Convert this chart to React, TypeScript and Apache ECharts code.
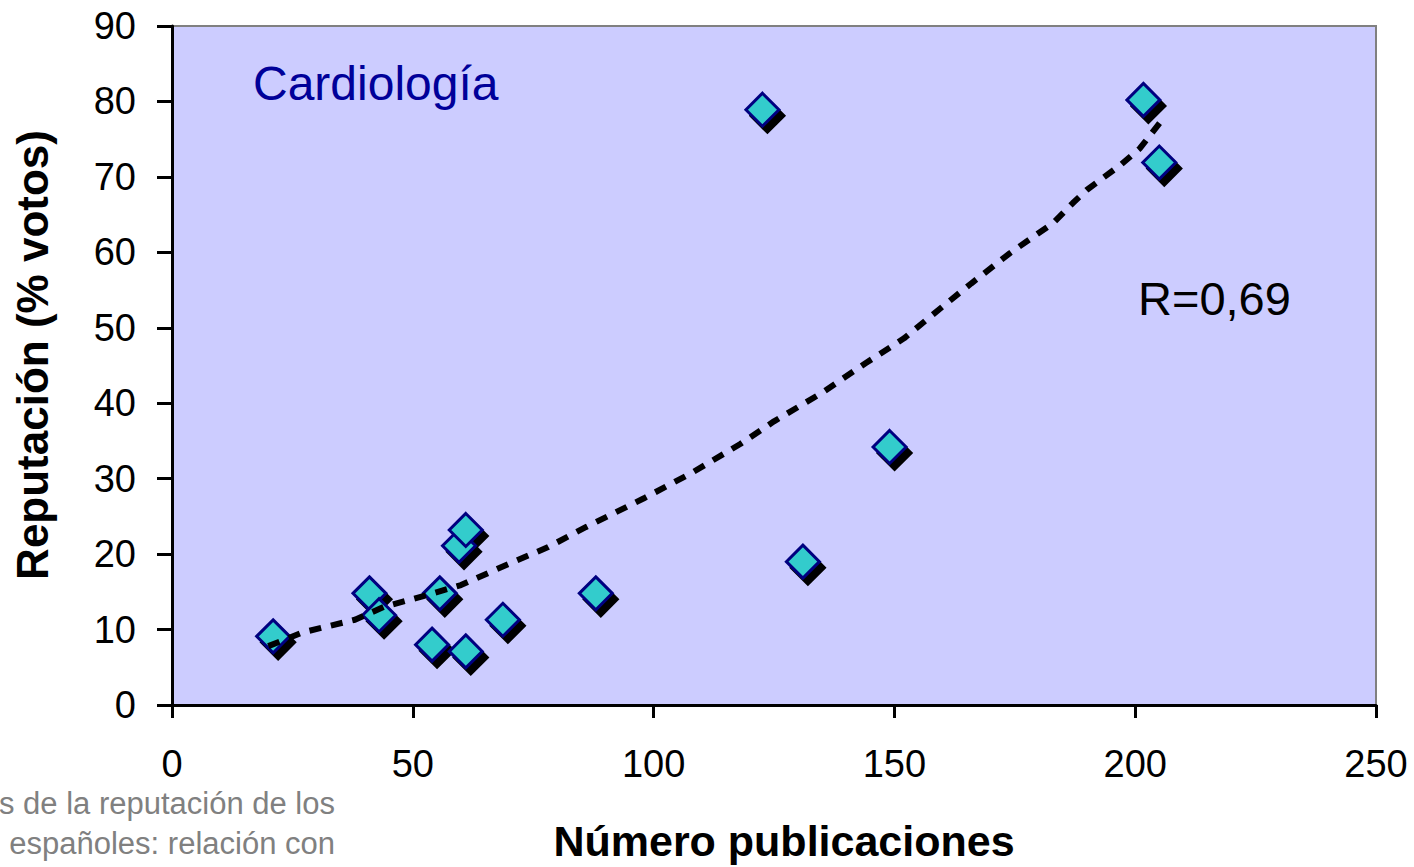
import React, { useEffect, useRef } from "react";
import * as echarts from "echarts";

// Scatter data: Número publicaciones (x) vs Reputación % votos (y)
const pubX = [21, 41, 43, 55.6, 54, 61, 59.6, 61, 68.7, 88, 122.6, 131, 149, 201.7, 205];
const repY = [9.1, 14.8, 11.9, 14.8, 8, 7.1, 21.1, 23.2, 11.3, 14.8, 78.9, 19, 34.2, 80.2, 71.9];

// Trend line
const trendX = [20, 27, 38, 44, 52, 60, 71, 78, 86, 98, 108, 118, 125, 135, 144, 152, 160, 166, 174, 183, 187, 190, 197, 201, 205.4];
const trendY = [7.8, 9.6, 11.3, 13.0, 14.4, 15.9, 19.0, 20.9, 23.6, 27.4, 30.8, 34.6, 37.6, 41.4, 45.3, 48.6, 52.8, 55.9, 59.9, 63.9, 66.5, 68.3, 71.6, 73.8, 77.4];

const xTicks = [0, 50, 100, 150, 200, 250];
const yTicks = [0, 10, 20, 30, 40, 50, 60, 70, 80, 90];

const FONT = "'Liberation Sans', Arial, Helvetica, sans-serif";

export default function App() {
  const ref = useRef<HTMLDivElement>(null);

  useEffect(() => {
    if (!ref.current) return;
    const chart = echarts.init(ref.current, null, { renderer: "svg" });
    const pts = pubX.map((x, i) => [x, repY[i]]);
    const trend = trendX.map((x, i) => [x, trendY[i]]);
    chart.setOption({
      animation: false,
      backgroundColor: "#ffffff",
      grid: {
        left: 172,
        right: 38,
        top: 26,
        bottom: 162,
        show: true,
        backgroundColor: "#ccccff",
        borderColor: "#808080",
        borderWidth: 2,
      },
      xAxis: {
        type: "value",
        min: xTicks[0],
        max: xTicks[xTicks.length - 1],
        interval: 50,
        axisLine: { show: true, onZero: false, lineStyle: { color: "#000", width: 3 } },
        axisTick: { show: true, length: 13, lineStyle: { color: "#000", width: 3 } },
        splitLine: { show: false },
        axisLabel: { color: "#000", fontSize: 38, fontFamily: FONT, margin: 40 },
      },
      yAxis: {
        type: "value",
        min: yTicks[0],
        max: yTicks[yTicks.length - 1],
        interval: 10,
        axisLine: { show: true, onZero: false, lineStyle: { color: "#000", width: 3 } },
        axisTick: { show: true, length: 15, lineStyle: { color: "#000", width: 3 } },
        splitLine: { show: false },
        axisLabel: { color: "#000", fontSize: 38, fontFamily: FONT, margin: 36 },
      },
      series: [
        {
          type: "scatter",
          data: pts,
          symbol: "diamond",
          symbolSize: 33,
          symbolOffset: [5, 6],
          itemStyle: { color: "#000000", borderColor: "#000000", borderWidth: 3, opacity: 1 },
          z: 1,
          silent: true,
        },
        {
          type: "scatter",
          data: pts,
          symbol: "diamond",
          symbolSize: 33,
          itemStyle: { color: "#33cccc", borderColor: "#000080", borderWidth: 3, opacity: 1 },
          z: 2,
        },
        {
          type: "line",
          data: trend,
          showSymbol: false,
          symbol: "none",
          smooth: false,
          lineStyle: { color: "#000", width: 6, type: [12, 10], cap: "butt" },
          z: 3,
        },
      ],
      graphic: [
        {
          type: "text",
          left: 253,
          top: 59,
          style: { text: "Cardiología", fontSize: 48, fontFamily: FONT, fill: "#000099" },
        },
        {
          type: "text",
          x: 1138,
          y: 298,
          style: { text: "R=0,69", fontSize: 47, fontFamily: FONT, fill: "#000", textVerticalAlign: "middle" },
        },
        {
          type: "text",
          x: 784,
          y: 841,
          style: {
            text: "Número publicaciones",
            fontSize: 43,
            fontWeight: "bold",
            fontFamily: FONT,
            fill: "#000",
            textAlign: "center",
            textVerticalAlign: "middle",
          },
        },
        {
          type: "text",
          x: 32,
          y: 355,
          rotation: Math.PI / 2,
          style: {
            text: "Reputación (% votos)",
            fontSize: 44,
            fontWeight: "bold",
            fontFamily: FONT,
            fill: "#000",
            textAlign: "center",
            textVerticalAlign: "middle",
          },
        },
        {
          type: "text",
          x: 335,
          y: 803,
          style: {
            text: "s de la reputación de los",
            fontSize: 31,
            fontFamily: FONT,
            fill: "#808080",
            textAlign: "right",
            textVerticalAlign: "middle",
          },
        },
        {
          type: "text",
          x: 335,
          y: 843,
          style: {
            text: "españoles: relación con",
            fontSize: 31,
            fontFamily: FONT,
            fill: "#808080",
            textAlign: "right",
            textVerticalAlign: "middle",
          },
        },
      ],
    });
    return () => chart.dispose();
  }, []);

  return (
    <div
      ref={ref}
      style={{ position: "absolute", left: 0, top: 0, width: 1414, height: 867 }}
    />
  );
}
